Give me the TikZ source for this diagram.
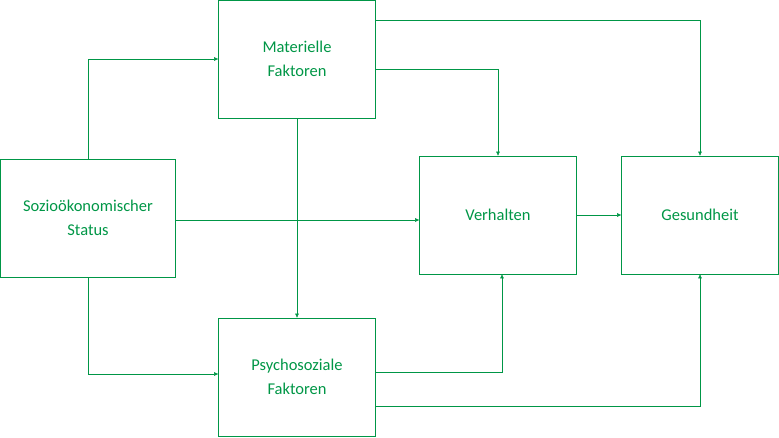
\documentclass[tikz,border=0pt]{standalone}
\usepackage{fontspec}
\setmainfont{Carlito}
\usetikzlibrary{arrows.meta,positioning}
\definecolor{sgreen}{RGB}{0,150,70}

\begin{document}
\begin{tikzpicture}[x=1pt,y=-1pt,>={Triangle[length=4pt,width=3.5pt]},
  box/.style={draw=sgreen,line width=0.7pt,minimum width=157pt,minimum height=118pt,
    align=center,text=sgreen,font=\fontsize{16.5}{24}\selectfont},
  link/.style={draw=sgreen,line width=0.5pt,->}]
  \useasboundingbox (0,0) rectangle (779,437);
  \node[box,minimum width=175pt] (ses) at (88,218) {Sozioökonomischer\\Status};
  \node[box] (mat) at (297,59) {Materielle\\Faktoren};
  \node[box] (psy) at (297,377) {Psychosoziale\\Faktoren};
  \node[box] (ver) at (498,215) {Verhalten};
  \node[box] (ges) at (700,215) {Gesundheit};

  \draw[link] (ses.north) |- (mat.west);
  \draw[link] (ses.south) |- ([yshift=3pt]psy.west);
  \draw[link] ([yshift=-2pt]ses.east) -- ([yshift=-5pt]ver.west);
  \draw[link] (mat.south) -- (psy.north);
  \draw[link] ([yshift=-10pt]mat.east) -| (ver.north);
  \draw[link] ([yshift=39pt]mat.east) -| (ges.north);
  \draw[link] ([yshift=5pt]psy.east) -| ([xshift=4pt]ver.south);
  \draw[link] ([yshift=-29pt]psy.east) -| (ges.south);
  \draw[link] (ver.east) -- (ges.west);
\end{tikzpicture}
\end{document}
